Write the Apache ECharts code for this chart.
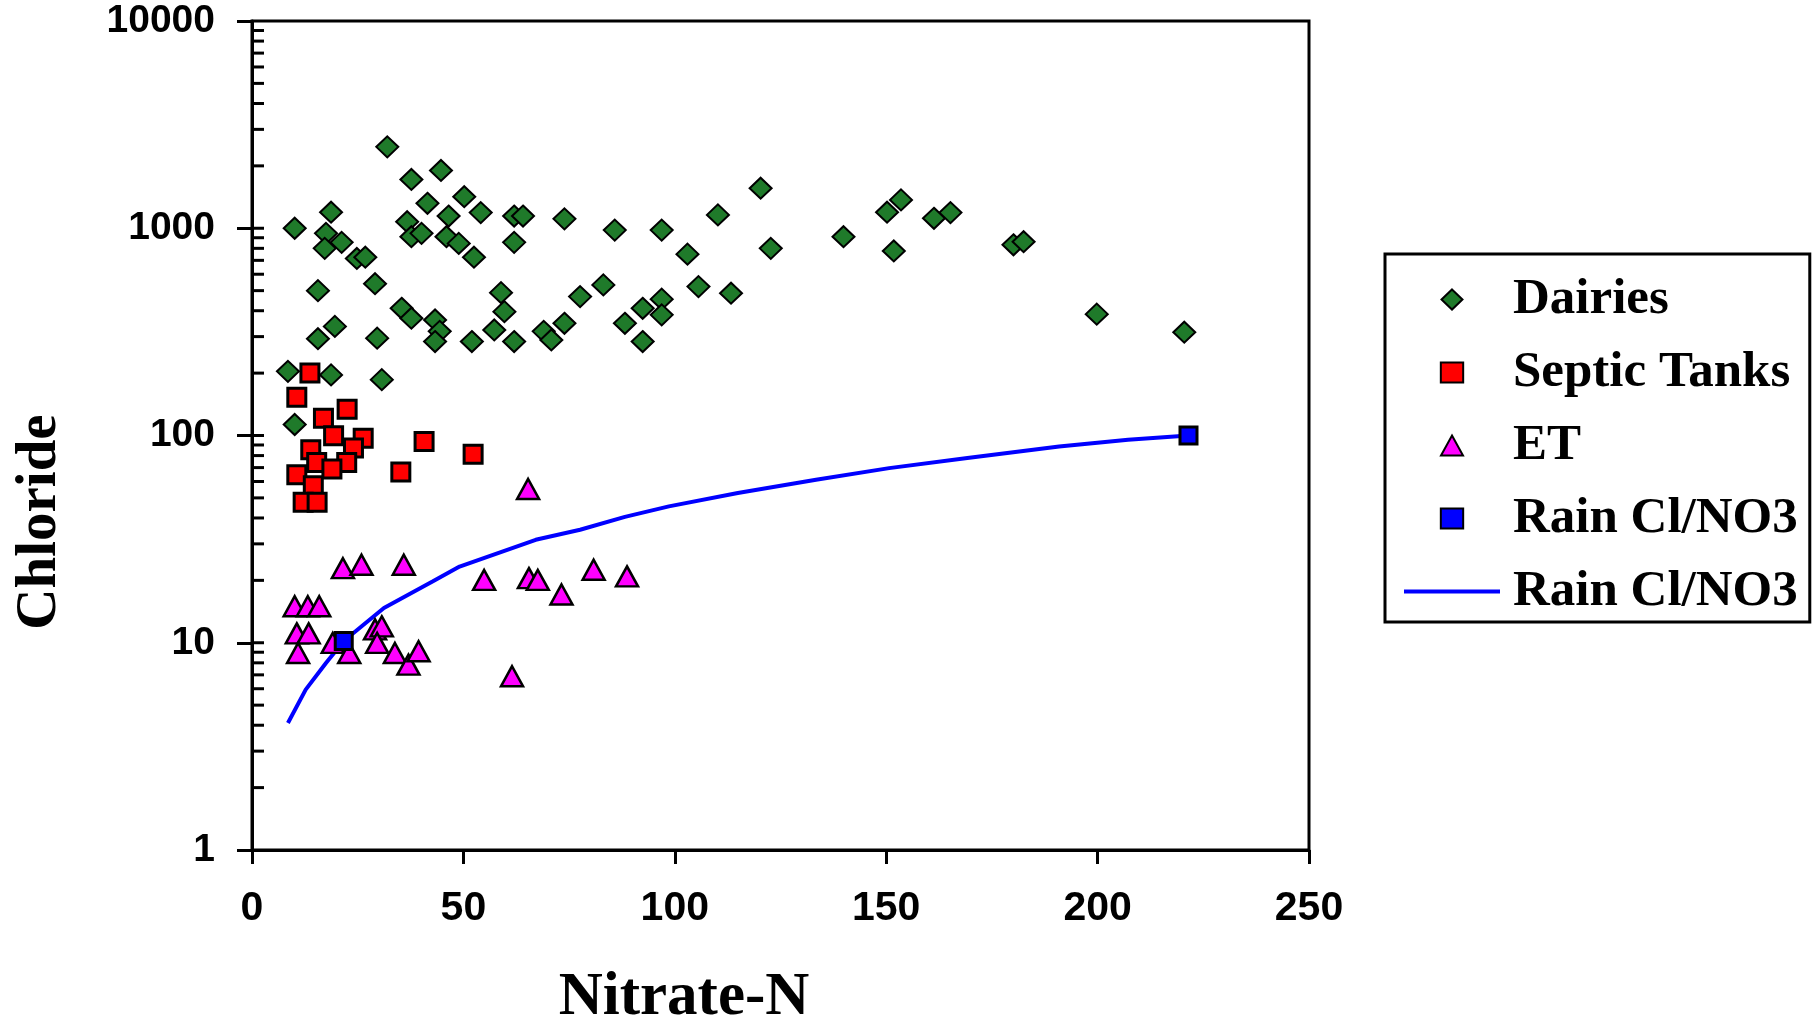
<!DOCTYPE html>
<html>
<head>
<meta charset="utf-8">
<script src="https://cdn.jsdelivr.net/npm/echarts@6/dist/echarts.min.js"></script>
<style>
html,body{margin:0;padding:0;background:#fff;}
#chart{width:1812px;height:1019px;}
</style>
</head>
<body>
<div id="chart"></div>
<script>
// ---- Data ----
const dairiesNitrate = [32.0,37.7,44.7,41.5,50.2,18.7,10.1,17.5,17.2,21.2,24.8,26.8,36.7,37.7,40.1,46.5,46.0,48.9,54.1,52.5,62.0,64.1,62.0,73.9,85.8,96.9,103.0,15.6,29.1,15.6,19.6,29.6,35.4,37.7,43.3,44.4,43.3,52.0,58.9,59.7,57.3,62.0,69.0,70.8,73.9,77.6,83.1,88.2,92.4,96.9,96.9,92.4,105.6,8.5,18.7,30.7,10.1,120.3,110.2,122.7,139.9,150.2,153.5,151.8,161.3,165.2,180.1,182.5,113.3,199.8,220.5];
const dairiesChloride = [2470,1720,1900,1320,1420,1195,1000,945,800,855,715,725,1075,910,945,1145,910,845,1190,725,1145,1145,855,1110,980,980,750,500,540,293,336,295,411,368,361,318,284,284,489,396,323,284,318,289,348,468,533,348,411,455,382,284,523,204,196,186,113,1560,1160,800,910,1195,1370,777,1117,1190,832,861,486,385,315];

const septicNitrate = [13.7,10.6,22.5,16.9,19.3,26.3,40.7,52.3,13.9,24.0,15.3,22.4,18.9,10.6,35.2,14.5,12.1,15.4];
const septicChloride = [200,153,134,121,99.7,97,93.5,81.3,85.3,87,74,74,69,64.6,66.6,57.2,47.7,47.7];

const etNitrate = [65.3,21.5,25.9,35.9,54.9,65.5,67.6,73.2,80.8,88.7,10.1,13.2,15.9,10.6,13.4,19.1,10.9,23.0,29.1,30.7,29.6,33.8,37.0,39.4,61.5];
const etChloride = [55.2,22.9,23.8,23.8,20.1,20.5,20.1,17.1,22.5,20.9,15.0,15.0,15.0,11.1,11.1,9.98,8.93,8.93,11.6,12.0,9.98,8.93,7.84,9.1,6.89];

const rainPointNitrate = [21.7,221.5];
const rainPointChloride = [10.2,100];

const rainLineNitrate = [8.5,12.7,17.5,21.7,31.2,42.8,49.1,67.1,77.6,88.2,98.6,114.9,133.4,150.7,169.2,190.9,207.2,221.5];
const rainLineChloride = [4.1,5.94,7.99,10.2,14.7,19.8,23.3,31.4,35.1,40.5,45.5,52.8,61.1,69.6,77.8,88.5,95.3,100];

const xTicks = [0,50,100,150,200,250];
const yDecades = [1,10,100,1000,10000];
const yInnerTickValues = [2,3,4,5,6,7,8,9,10,20,30,40,50,60,70,80,90,100,200,300,400,500,600,700,800,900,1000,2000,3000,4000,5000,6000,7000,8000,9000];

const seriesNames = ['Dairies','Septic Tanks','ET','Rain Cl/NO3','Rain Cl/NO3 '];

function pairs(xs, ys){ return xs.map((x,i)=>[x, ys[i]]); }

const chart = echarts.init(document.getElementById('chart'), null, {renderer:'canvas'});
const labelFont = 'Liberation Sans';
const serifFont = 'Liberation Serif';

const option = {
  animation:false,
  backgroundColor:'#fff',
  grid:{left:252, top:21, right:503, bottom:169, show:true, borderColor:'#000', borderWidth:3, backgroundColor:'transparent'},
  xAxis:{
    type:'value', min:xTicks[0], max:xTicks[xTicks.length-1], interval:50,
    axisLine:{show:true, onZero:false, lineStyle:{color:'#000', width:3}},
    axisTick:{show:true, inside:false, length:14, lineStyle:{color:'#000', width:3}},
    axisLabel:{show:true, margin:38, color:'#000', fontFamily:labelFont, fontWeight:'bold', fontSize:41},
    splitLine:{show:false}
  },
  yAxis:{
    type:'log', logBase:10, min:yDecades[0], max:yDecades[yDecades.length-1],
    axisLine:{show:true, onZero:false, lineStyle:{color:'#000', width:3}},
    axisTick:{show:true, inside:false, length:15, lineStyle:{color:'#000', width:3}},
    axisLabel:{show:true, margin:37, color:'#000', fontFamily:labelFont, fontWeight:'bold', fontSize:39,
               formatter:(v)=>String(Math.round(v))},
    splitLine:{show:false}, minorTick:{show:false}
  },
  legend:{
    orient:'vertical', left:1385, top:254,
    data:[
      {name:seriesNames[0], icon:'path://M11,0L22,10.5L11,21L0,10.5Z'},
      {name:seriesNames[1], icon:'path://M0,0H19V17H0Z'},
      {name:seriesNames[2], icon:'path://M11,0L22,20H0Z'},
      {name:seriesNames[3], icon:'path://M0,0H19V17H0Z'},
      {name:seriesNames[4], icon:'path://M0,0H96V4H0Z'}
    ],
    formatter:(n)=>n.trim(),
    symbolKeepAspect:true,
    itemWidth:96, itemHeight:20, itemGap:22,
    padding:[20,12,5,19],
    borderColor:'#000', borderWidth:3, backgroundColor:'#fff',
    selectedMode:false,
    textStyle:{fontFamily:serifFont, fontWeight:'bold', fontSize:51, color:'#000', lineHeight:50, padding:[0,0,0,8]}
  },
  graphic:[
    {type:'text', x:40, y:522, rotation:Math.PI/2,
     style:{text:'Chloride', fontFamily:serifFont, fontWeight:'bold', fontSize:57, fill:'#000', textAlign:'center', textVerticalAlign:'middle'}},
    {type:'text', x:684, y:998,
     style:{text:'Nitrate-N', fontFamily:serifFont, fontWeight:'bold', fontSize:61, fill:'#000', textAlign:'center', textVerticalAlign:'middle'}}
  ],
  series:[
    {name:seriesNames[0], type:'scatter', data:pairs(dairiesNitrate, dairiesChloride), symbol:'diamond', symbolSize:[22,21], z:4,
     itemStyle:{color:'#1f7a2a', borderColor:'#000', borderWidth:2, opacity:1}},
    {name:seriesNames[1], type:'scatter', data:pairs(septicNitrate, septicChloride), symbol:'rect', symbolSize:18, z:4,
     itemStyle:{color:'#ff0000', borderColor:'#000', borderWidth:3, opacity:1}},
    {name:seriesNames[2], type:'scatter', data:pairs(etNitrate, etChloride), symbol:'triangle', symbolSize:[22,20], z:4,
     itemStyle:{color:'#ff00ff', borderColor:'#000', borderWidth:2.5, opacity:1}},
    {name:seriesNames[3], type:'scatter', data:pairs(rainPointNitrate, rainPointChloride), symbol:'rect', symbolSize:17, z:5,
     itemStyle:{color:'#0000ff', borderColor:'#000', borderWidth:3, opacity:1}},
    {name:seriesNames[4], type:'line', data:pairs(rainLineNitrate, rainLineChloride), showSymbol:false, symbol:'none', z:3,
     lineStyle:{color:'#0000ff', width:4}, itemStyle:{color:'#0000ff', borderWidth:0}},
    {name:'innerTicks', type:'custom', silent:true, clip:false, z:6,
     data:yInnerTickValues.map(v=>[xTicks[0], v]),
     renderItem:(params, api)=>{
       const p = api.coord([api.value(0), api.value(1)]);
       return {type:'line', shape:{x1:p[0], y1:p[1], x2:p[0]+12, y2:p[1]}, style:{stroke:'#000', lineWidth:3}};
     }}
  ]
};
chart.setOption(option);
</script>
</body>
</html>
